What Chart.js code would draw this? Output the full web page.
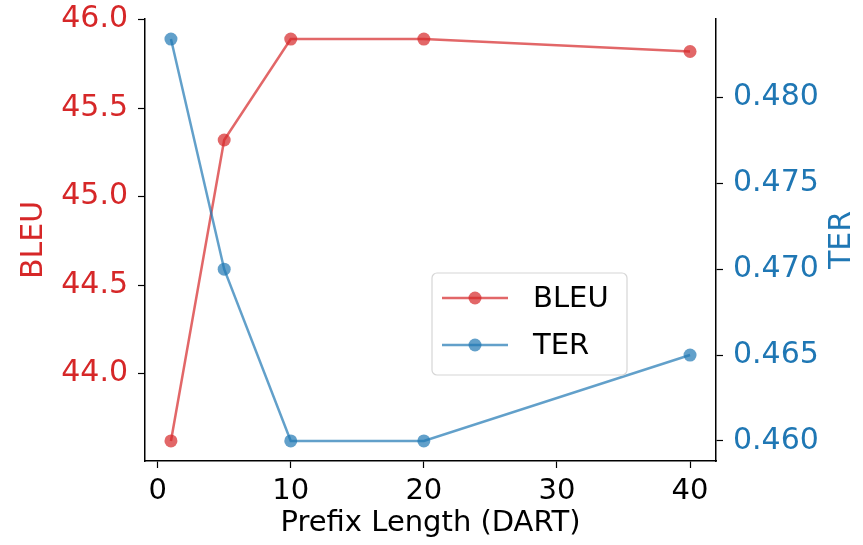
<!DOCTYPE html>
<html>
<head>
<meta charset="utf-8">
<script src="https://cdn.jsdelivr.net/npm/chart.js@4/dist/chart.umd.min.js"></script>
<style>
  html, body { margin: 0; padding: 0; background: #fff; }
  #wrap { width: 863px; height: 545px; }
</style>
</head>
<body>
<div id="wrap"><canvas id="c" width="863" height="545"></canvas></div>
<script>
// data
const prefixLen = [1, 5, 10, 20, 40];
const bleu = [43.62, 45.32, 45.89, 45.89, 45.82];
const ter = [0.4834, 0.4700, 0.4600, 0.4600, 0.4650];
const xTicks = [0, 10, 20, 30, 40];
const bleuTicks = [44.0, 44.5, 45.0, 45.5, 46.0];
const terTicks = [0.460, 0.465, 0.470, 0.475, 0.480];

const RED = '#d62728', BLUE = '#1f77b4';
const RED_A = 'rgba(214,39,40,0.7)', BLUE_A = 'rgba(31,119,180,0.7)';
const FONT = 'DejaVu Sans';
const FS = 30;

// matplotlib-ish 5% margins
const pad = (lo, hi) => { const m = (hi - lo) * 0.05; return [lo - m, hi + m]; };
const [xMin, xMax] = pad(Math.min(...prefixLen), Math.max(...prefixLen));
const [bMin, bMax] = pad(Math.min(...bleu), Math.max(...bleu));
const [tMin, tMax] = pad(Math.min(...ter), Math.max(...ter));

const fixTicks = arr => scale => { scale.ticks = arr.map(v => ({ value: v })); };

// legend + right title drawn by hand (legend sits inside the plot)
const extras = {
  id: 'extras',
  afterDraw(chart) {
    const ctx = chart.ctx;
    ctx.save();
    // TER title, reads bottom to top
    ctx.fillStyle = BLUE;
    ctx.font = `${FS}px "${FONT}"`;
    ctx.textAlign = 'center';
    ctx.textBaseline = 'middle';
    ctx.translate(842, 240);
    ctx.rotate(-Math.PI / 2);
    ctx.fillText('TER', 0, 0);
    ctx.restore();

    ctx.save();
    const bx = 432, by = 273, bw = 195, bh = 102, r = 5;
    ctx.beginPath();
    ctx.roundRect(bx, by, bw, bh, r);
    ctx.fillStyle = 'rgba(255,255,255,0.8)';
    ctx.fill();
    ctx.strokeStyle = '#d6d6d6';
    ctx.lineWidth = 1.2;
    ctx.stroke();
    const items = [['BLEU', RED_A, 298], ['TER', BLUE_A, 345]];
    items.forEach(([label, col, y]) => {
      ctx.strokeStyle = col;
      ctx.lineWidth = 2.5;
      ctx.beginPath();
      ctx.moveTo(442, y); ctx.lineTo(508, y);
      ctx.stroke();
      ctx.fillStyle = col;
      ctx.beginPath();
      ctx.arc(475, y, 6.5, 0, Math.PI * 2);
      ctx.fill();
      ctx.fillStyle = '#000';
      ctx.font = `${FS - 1}px "${FONT}"`;
      ctx.textAlign = 'left';
      ctx.textBaseline = 'middle';
      ctx.fillText(label, 533, y + 1);
    });
    ctx.restore();
  }
};

const yFit = w => s => { s.width = w; s.paddingTop = 0; s.paddingBottom = 0; };

const ctx = document.getElementById('c').getContext('2d');
new Chart(ctx, {
  type: 'line',
  data: {
    datasets: [
      {
        label: 'TER',
        data: prefixLen.map((x, i) => ({ x, y: ter[i] })),
        yAxisID: 'y1',
        borderColor: BLUE_A,
        backgroundColor: BLUE_A,
        borderWidth: 2.5,
        pointRadius: 6.5,
        pointBorderWidth: 0,
        tension: 0,
        order: 0
      },
      {
        label: 'BLEU',
        data: prefixLen.map((x, i) => ({ x, y: bleu[i] })),
        yAxisID: 'y',
        borderColor: RED_A,
        backgroundColor: RED_A,
        borderWidth: 2.5,
        pointRadius: 6.5,
        pointBorderWidth: 0,
        tension: 0,
        order: 1
      }
    ]
  },
  options: {
    responsive: false,
    animation: false,
    layout: { padding: { top: 19 } },
    plugins: { legend: { display: false }, tooltip: { enabled: false } },
    scales: {
      x: {
        type: 'linear',
        min: xMin, max: xMax,
        afterBuildTicks: fixTicks(xTicks),
        afterFit: s => { s.height = 84; s.paddingLeft = 0; s.paddingRight = 0; },
        border: { display: true, color: '#000', width: 1.5 },
        grid: { drawOnChartArea: false, tickLength: 7, color: '#000', tickWidth: 1.2 },
        ticks: { color: '#000', font: { family: FONT, size: FS - 1 }, padding: 6, maxRotation: 0 },
        title: { display: true, text: 'Prefix Length (DART)', color: '#000', font: { family: FONT, size: FS - 1 }, padding: { top: 0, bottom: 4 } }
      },
      y: {
        position: 'left',
        min: bMin, max: bMax,
        afterBuildTicks: fixTicks(bleuTicks),
        afterFit: yFit(145),
        border: { display: true, color: '#000', width: 1.5 },
        grid: { drawOnChartArea: false, tickLength: 7, color: '#000', tickWidth: 1.2 },
        ticks: { color: RED, font: { family: FONT, size: FS }, padding: 10, callback: v => v.toFixed(1) },
        title: { display: true, text: 'BLEU', color: RED, font: { family: FONT, size: FS }, padding: { top: 16, bottom: 0 } }
      },
      y1: {
        position: 'right',
        min: tMin, max: tMax,
        afterBuildTicks: fixTicks(terTicks),
        afterFit: yFit(147),
        border: { display: true, color: '#000', width: 1.5 },
        grid: { drawOnChartArea: false, tickLength: 7, color: '#000', tickWidth: 1.2 },
        ticks: { color: BLUE, font: { family: FONT, size: FS }, padding: 10, callback: v => v.toFixed(3) }
      }
    }
  },
  plugins: [extras]
});
</script>
</body>
</html>
